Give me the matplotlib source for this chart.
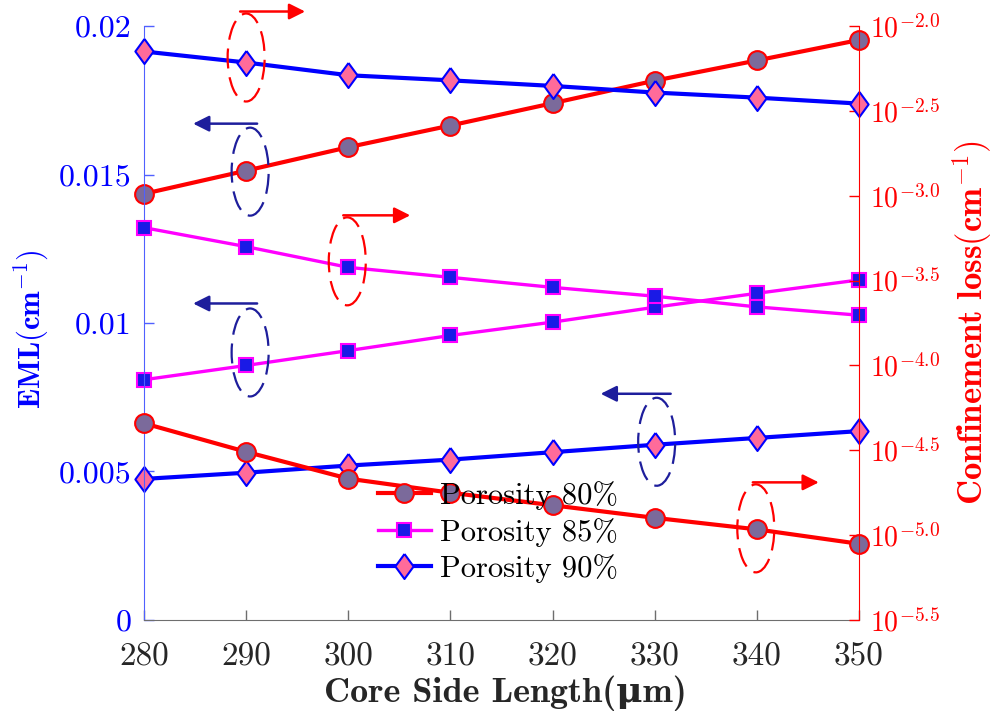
import matplotlib
matplotlib.use("Agg")
import matplotlib.pyplot as plt
import numpy as np
from matplotlib.patches import Ellipse
from matplotlib.transforms import ScaledTranslation

plt.rcParams["mathtext.fontset"] = "cm"
plt.rcParams["font.family"] = ["cmr10", "DejaVu Serif"]
plt.rcParams["axes.unicode_minus"] = False

# core side length (um)
side_length = [280, 290, 300, 310, 320, 330, 340, 350]

# effective material loss, left axis (cm^-1)
eml_80 = [0.01435, 0.01513, 0.01592, 0.01665, 0.01740, 0.01816, 0.01884, 0.01953]
eml_85 = [0.00809, 0.00857, 0.00907, 0.00958, 0.01003, 0.01053, 0.01100, 0.01145]
eml_90 = [0.00475, 0.00496, 0.00520, 0.00540, 0.00565, 0.00590, 0.00613, 0.00636]

# confinement loss exponents, right axis (log10 of cm^-1)
cl_80 = [-4.341, -4.509, -4.667, -4.750, -4.824, -4.898, -4.966, -5.051]
cl_85 = [-3.188, -3.300, -3.422, -3.481, -3.540, -3.592, -3.655, -3.704]
cl_90 = [-2.150, -2.215, -2.290, -2.320, -2.353, -2.392, -2.422, -2.457]

left_ticks = [0, 0.005, 0.01, 0.015, 0.02]
left_tick_labels = ["0", "0.005", "0.01", "0.015", "0.02"]
right_exponents = ["-5.5", "-5.0", "-4.5", "-4.0", "-3.5", "-3.0", "-2.5", "-2.0"]

series_labels = ["Porosity 80%", "Porosity 85%", "Porosity 90%"]

RED = "#ff0000"
MAGENTA = "#ff00ff"
BLUE = "#0000ff"
NAVY = "#1e1e9c"

styles = [
    dict(color=RED, lw=3.0, marker="o", ms=13.5, mfc="#7b6a9b", mec=RED, mew=1.5),
    dict(color=MAGENTA, lw=2.4, marker="s", ms=10.5, mfc="#1a1ae6", mec=MAGENTA, mew=1.5),
    dict(color=BLUE, lw=3.0, marker=[(0, 1), (0.73, 0), (0, -1), (-0.73, 0), (0, 1)],
         ms=18, mfc="#ff6b9a", mec=BLUE, mew=1.5),
]

fig = plt.figure(figsize=(9.93, 7.17), dpi=100)
ax = fig.add_axes([0.145, 0.1353, 0.72, 0.8284])
ax2 = ax.twinx()

for vals, st in zip([eml_80, eml_85, eml_90], styles):
    ax.plot(side_length, vals, clip_on=False, **st)

cl_lines = []
for vals, st, lab in zip([cl_80, cl_85, cl_90], styles, series_labels):
    (ln,) = ax2.plot(side_length, 10 ** np.array(vals), clip_on=False, label=lab, **st)
    cl_lines.append(ln)

ax.set_xlim(280, 350)
ax.set_ylim(0, 0.02)
ax2.set_yscale("log")
ax2.set_ylim(10 ** -5.5, 10 ** -2.0)

ax.set_xticks(side_length)
ax.set_xticklabels([str(v) for v in side_length])
ax.set_yticks(left_ticks)
ax.set_yticklabels(left_tick_labels)
ax2.set_yticks([10 ** float(e) for e in right_exponents])
ax2.set_yticklabels([rf"$10^{{{e}}}$" for e in right_exponents])
ax2.yaxis.set_minor_locator(matplotlib.ticker.NullLocator())

ax.tick_params(axis="x", direction="in", length=7, width=1, color="#6e6e6e",
               labelsize=24, labelcolor="#262626", pad=16)
ax.tick_params(axis="y", direction="in", length=7, width=1, color="#5060ff",
               labelsize=23, labelcolor=BLUE, pad=9)
ax2.tick_params(axis="y", direction="in", length=7, width=1, color=RED,
                labelsize=20, labelcolor=RED, pad=8)

ax.spines["top"].set_visible(False)
ax2.spines["top"].set_visible(False)
ax.spines["right"].set_visible(False)
ax2.spines["left"].set_visible(False)
ax2.spines["bottom"].set_visible(False)
ax.spines["left"].set_color("#5060ff")
ax.spines["bottom"].set_color("#6e6e6e")
ax2.spines["right"].set_color(RED)

ax.set_xlabel("Core Side Length(μm)", fontsize=26, color="#262626",
              family=["cmb10", "DejaVu Serif"], fontweight="bold")
ax.xaxis.set_label_coords(0.506, -0.094)
ax.set_ylabel(r"$\mathbf{EML(cm^{-1})}$", fontsize=22, color=BLUE)
ax.yaxis.set_label_coords(-0.131, 0.49)
ax2.set_ylabel(r"$\mathbf{Confinement\ loss(cm^{-1})}$", fontsize=25, color=RED)
ax2.yaxis.set_label_coords(1.128, 0.50)

leg = ax2.legend(handles=cl_lines, loc="center", bbox_to_anchor=(0.495, 0.148),
                 frameon=False, fontsize=22, handlelength=1.75, handletextpad=0.3,
                 labelspacing=0.25)
for t in leg.get_texts():
    t.set_color("black")


def axis_marker(target_ax, x, y, ell_off, arrow_from, arrow_to, color):
    """Dashed ellipse around a point plus an arrow pointing to its axis (offsets in px)."""
    anchor = fig.dpi_scale_trans + ScaledTranslation(x, y, target_ax.transData)
    px = 1 / fig.dpi
    ell = Ellipse((ell_off[0] * px, ell_off[1] * px), 0.37, 0.88, transform=anchor,
                  fill=False, edgecolor=color, lw=1.6, linestyle=(0, (9, 4)),
                  zorder=5, clip_on=False)
    fig.add_artist(ell)
    ax2.annotate("", xy=(arrow_to[0] * px, arrow_to[1] * px),
                 xytext=(arrow_from[0] * px, arrow_from[1] * px),
                 xycoords=anchor, textcoords=anchor,
                 arrowprops=dict(arrowstyle="-|>", color=color, lw=1.8,
                                 mutation_scale=24, shrinkA=0, shrinkB=0),
                 annotation_clip=False)


axis_marker(ax2, side_length[1], 10 ** cl_90[1], (0, 5), (-6, 51), (59, 51), RED)
axis_marker(ax, side_length[1], eml_80[1], (4, -1), (11, 47), (-53, 47), NAVY)
axis_marker(ax2, side_length[2], 10 ** cl_85[2], (-1, 6), (-5, 52), (62, 52), RED)
axis_marker(ax, side_length[1], eml_85[1], (4, 13), (11, 62), (-53, 62), NAVY)
axis_marker(ax, side_length[5], eml_90[5], (2, 3), (16, 51), (-54, 51), NAVY)
axis_marker(ax2, side_length[6], 10 ** cl_80[6], (-1, 1), (-4, 47), (62, 47), RED)

fig.savefig("out.png", dpi=100)
